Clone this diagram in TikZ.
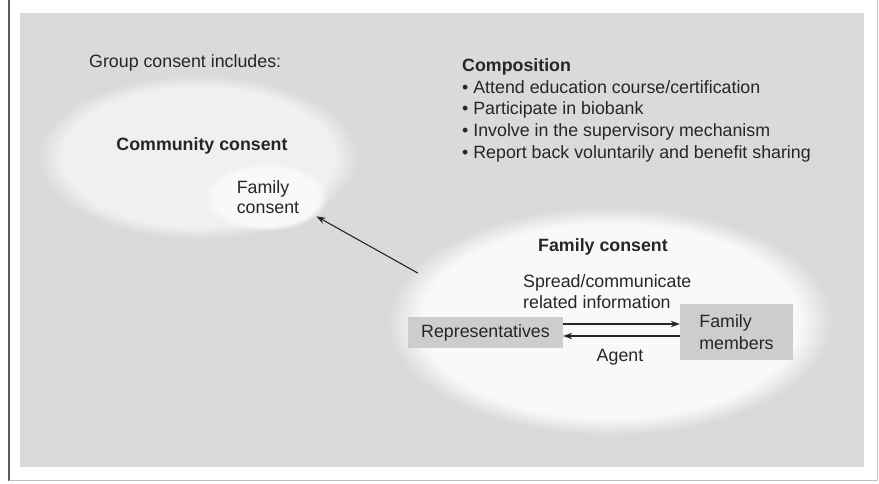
\documentclass[tikz,border=0pt]{standalone}
\usepackage{fontspec}
\setmainfont{Liberation Sans}
\usetikzlibrary{arrows.meta,shapes.geometric,fadings}
\definecolor{bg}{RGB}{217,218,220}
\definecolor{commfill}{RGB}{240,240,242}
\definecolor{famfill}{RGB}{249,249,249}
\definecolor{boxfill}{RGB}{204,205,207}
\definecolor{txt}{RGB}{38,38,38}
\definecolor{frameline}{RGB}{90,90,90}
\begin{document}
\begin{tikzpicture}[x=1pt,y=-1pt,
  every node/.style={font=\fontsize{17.8}{21.7}\selectfont, text=txt, inner sep=0pt},
  lbl/.style={anchor=base west},
  boldlbl/.style={anchor=base, font=\fontsize{17.8}{21.7}\selectfont\bfseries},
  softell/.style={path fading=circle with fuzzy edge 15 percent, fit fading=true},
  hidden/.style={ellipse, draw=none, fill=none},
  greybox/.style={rectangle, fill=boxfill, align=left},
  conn/.style={draw=txt, line width=1.1pt, -{Stealth[length=9pt,width=6.5pt]}}
]
\useasboundingbox (0,0) rectangle (879,483);
\fill[white] (0,0) rectangle (879,483);
\fill[bg] (20,13) rectangle (864,467);
\draw[frameline, line width=1.4pt] (9,0) -- (9,481);
\draw[black!25, line width=0.8pt] (9,480) -- (877,480) -- (877,0);

% soft ellipses
\fill[commfill, softell] (198,157) ellipse [x radius=160, y radius=82];
\fill[famfill, softell] (266,197) ellipse [x radius=62, y radius=34];
\fill[famfill, softell] (610,321) ellipse [x radius=222, y radius=114];

% ellipse nodes (for connectors)
\node[hidden, minimum width=296, minimum height=146] (comm) at (198,157) {};
\node[hidden, minimum width=126, minimum height=64] (small) at (266,197) {};
\node[hidden, minimum width=430, minimum height=212] (fam) at (610,321) {};

% texts
\node[lbl] (group) at (89,67) {Group consent includes:};
\node[boldlbl] (commlbl) at (202,150) {Community consent};
\node[anchor=base] (sm1) at (263,193) {Family};
\node[anchor=base] (sm2) at (268,213) {consent};

\node[lbl, font=\fontsize{17.8}{21.7}\selectfont\bfseries] (comp) at (462,71) {Composition};
\node[lbl] (c1) at (462,93) {• Attend education course/certification};
\node[lbl] (c2) at (462,114.5) {• Participate in biobank};
\node[lbl] (c3) at (462,136) {• Involve in the supervisory mechanism};
\node[lbl] (c4) at (462,158) {• Report back voluntarily and benefit sharing};

\node[boldlbl] (famlbl) at (603,251) {Family consent};
\node[lbl] (sp1) at (523,287) {Spread/communicate};
\node[lbl] (sp2) at (523,308) {related information};
\node[anchor=base] (agent) at (620,361) {Agent};

\node[greybox, minimum width=155, minimum height=31] (rep) at (485.5,332.5) {Representatives};
\node[greybox, minimum width=113, minimum height=56] (fm) at (736.5,332) {Family\\members};

% connectors
\draw[conn] ([yshift=8.5pt]rep.east) -- ([yshift=8.5pt]rep.east -| fm.west);
\draw[conn] ([yshift=-3.5pt]rep.east -| fm.west) -- ([yshift=-3.5pt]rep.east);
\draw[conn] (fam.166) -- (small.-21);
\end{tikzpicture}
\end{document}
